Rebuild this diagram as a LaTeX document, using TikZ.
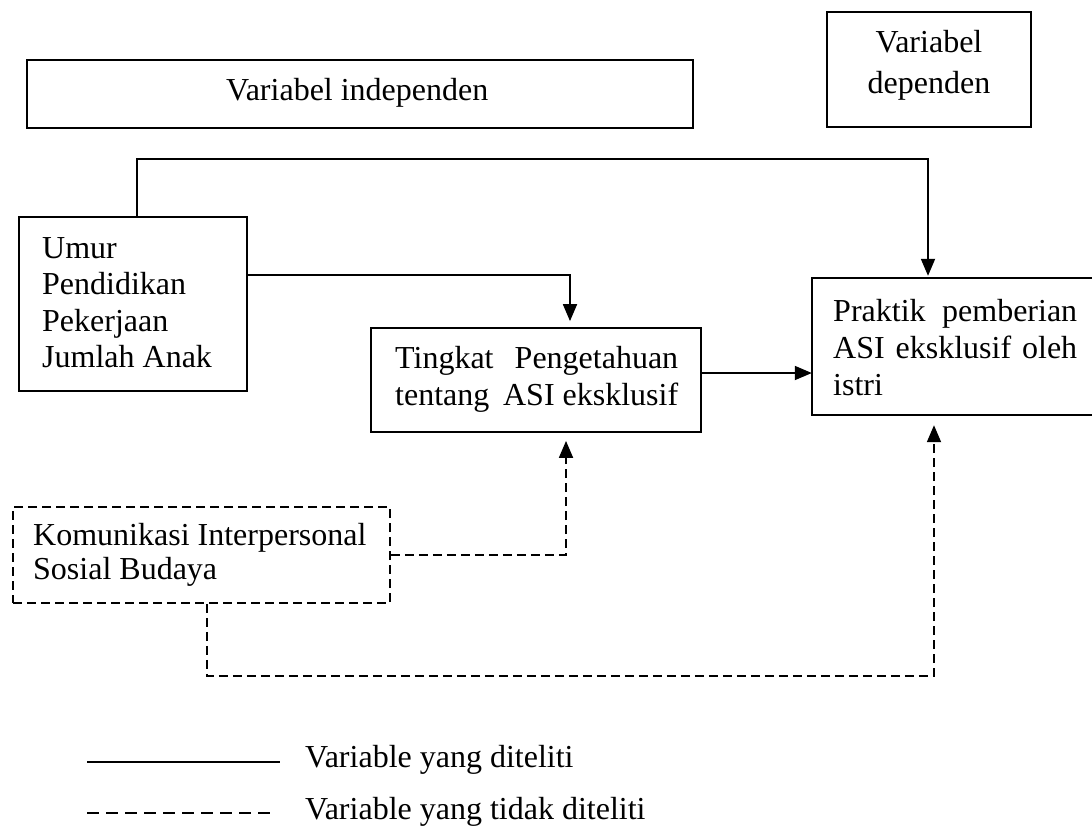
\documentclass[tikz,border=0pt]{standalone}
\usepackage{fontspec}
\setmainfont{Liberation Serif}
\usetikzlibrary{arrows.meta}
\begin{document}
\begin{tikzpicture}[x=1pt,y=-1pt,
  box/.style={draw, line width=1.8pt, inner sep=0pt, minimum width=#1},
  boxh/.style={minimum height=#1},
  dln/.style={line width=1.8pt, dash pattern=on 9pt off 5pt},
  ln/.style={line width=1.8pt},
  txt/.style={anchor=base west, inner sep=0pt, font=\fontsize{32}{37}\selectfont},
  ctxt/.style={anchor=base, inner sep=0pt, font=\fontsize{32}{37}\selectfont},
  arr/.style={-{Triangle[length=17pt,width=14pt]}}]
\path[use as bounding box, fill=white] (0,0) rectangle (1092,831);

% boxes
\node[box=666pt, boxh=68pt] (indep) at (360,94) {};
\node[txt] (indept) at (226,100) {Variabel independen};

\node[box=204pt, boxh=115pt] (dep) at (929,69.5) {};
\node[ctxt] (dept1) at (929,52) {Variabel};
\node[ctxt] (dept2) at (929,93) {dependen};

\node[box=228pt, boxh=174pt] (umur) at (133,304) {};
\node[txt] (u1) at (42,258) {Umur};
\node[txt] (u2) at (42,294) {Pendidikan};
\node[txt] (u3) at (42,331) {Pekerjaan};
\node[txt] (u4) at (42,367) {Jumlah Anak};

\node[box=330pt, boxh=104pt] (ting) at (536,380) {};
\node[txt] (t1) at (395,368) {\hbox to 283pt{Tingkat\hfill Pengetahuan}};
\node[txt] (t2) at (395,405) {\hbox to 283pt{tentang\hfill\ ASI eksklusif}};

\node[inner sep=0pt, minimum width=290pt, minimum height=137pt] (prak) at (957,346.5) {};
\draw[ln] (prak.north east) -- (prak.north west) -- (prak.south west) -- (prak.south east);
\node[txt] (p1) at (833,321) {\hbox to 244pt{Praktik\hfill\ pemberian}};
\node[txt] (p2) at (833,358) {\hbox to 244pt{ASI\hfill\ eksklusif\hfill\ oleh}};
\node[txt] (p3) at (833,395) {istri};

\node[draw, dln, inner sep=0pt, minimum width=377pt, minimum height=96pt] (komu) at (201.5,555) {};
\node[txt] (k1) at (33,545) {Komunikasi Interpersonal};
\node[txt] (k2) at (33,579) {Sosial Budaya};

% connector bends
\coordinate (c1) at (137,159);
\coordinate (c2) at (928,159);
\coordinate (c3) at (570,275);
\coordinate (c4) at (700,373);
\coordinate (c5) at (566,555);
\coordinate (c6) at (207,676);
\coordinate (c7) at (934,676);

\draw[ln, arr] (c1 |- umur.north) -- (c1) -- (c2) -- ([yshift=2pt]c2 |- prak.north);
\draw[ln, arr, shorten >=6pt] (umur.east |- c3) -- (c3) -- (c3 |- ting.north);
\draw[ln, arr] (ting.east |- c4) -- (prak.west |- c4);
\draw[dln, arr, shorten >=8pt] (komu.east |- c5) -- (c5) -- (c5 |- ting.south);
\draw[dln, arr, shorten >=10pt] (c6 |- komu.south) -- (c6) -- (c7) -- (c7 |- prak.south);

% legend
\coordinate (la) at (87,762);
\coordinate (lb) at (280,762);
\coordinate (lc) at (87,813);
\coordinate (ld) at (273,813);
\draw[ln] (la) -- (lb);
\draw[line width=1.8pt, dash pattern=on 12pt off 7pt] (lc) -- (ld);
\node[txt] (leg1) at (305,767) {Variable yang diteliti};
\node[txt] (leg2) at (305,819) {Variable yang tidak diteliti};
\end{tikzpicture}
\end{document}
